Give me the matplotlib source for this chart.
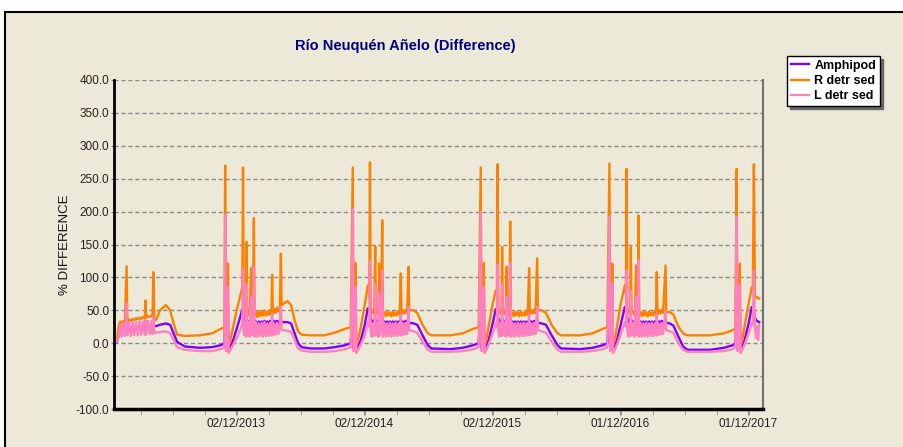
import numpy as np
import pandas as pd
import matplotlib
matplotlib.use("Agg")
import matplotlib.pyplot as plt
from matplotlib.patches import Rectangle

plt.rcParams['font.family'] = ['Liberation Sans', 'DejaVu Sans']

# days since 19/12/2012 and the three series (% difference)
start = pd.Timestamp("2012-12-19")

days = [
    0, 8, 14, 18, 22, 27, 31, 36, 38, 43, 48, 53, 58, 63, 68, 73, 78, 83, 88, 90, 92, 97, 102, 107, 110, 112,
    115, 120, 131, 148, 160, 170, 180, 202, 245,
    # 2013
    280, 305, 315, 317, 319, 324, 325, 327, 332, 340, 350, 360, 366, 368, 370,
    372, 375, 377, 378, 380, 384, 387, 391, 393, 396, 399, 401, 405, 409, 413, 417, 421, 425, 429, 433,
    437, 441, 445, 449, 451, 453, 457, 461, 465, 469, 473, 476, 478, 495, 505, 515, 525, 535, 560, 600, 630, 660,
    # 2014
    675, 681, 683, 688, 689, 691, 696, 704, 714, 724, 728, 730, 732, 735, 739, 742, 745, 747, 751, 754, 756,
    758, 762, 765, 767, 771, 775, 779, 783, 787, 791, 795, 799, 803, 807, 811, 815, 818, 820, 824, 828, 832,
    836, 840, 842, 855, 865, 880, 895, 905, 960, 995, 1025,
    # 2015
    1040, 1046, 1048, 1053, 1055, 1057, 1062, 1070, 1080, 1089, 1092, 1094, 1096, 1099, 1103, 1105, 1107,
    1109, 1113, 1117, 1120, 1122, 1126, 1128, 1130, 1132, 1136, 1140, 1144, 1148, 1152, 1156, 1160, 1164,
    1168, 1172, 1176, 1180, 1184, 1186, 1190, 1194, 1198, 1202, 1207, 1209, 1220, 1232, 1248, 1265, 1275,
    1330, 1365, 1395,
    # 2016
    1407, 1413, 1415, 1420, 1421, 1423, 1428, 1436, 1446, 1457, 1460, 1462, 1464, 1467, 1470, 1472, 1474,
    1476, 1480, 1484, 1486, 1489, 1491, 1494, 1496, 1498, 1502, 1506, 1510, 1514, 1518, 1522, 1526, 1530,
    1534, 1538, 1542, 1546, 1548, 1550, 1554, 1558, 1562, 1566, 1573, 1575, 1585, 1595, 1610, 1623, 1635,
    1700, 1740, 1765,
    # 2017
    1772, 1776, 1778, 1783, 1785, 1787, 1792, 1800, 1810, 1819, 1822, 1825, 1828, 1831, 1834, 1837, 1840,
]

amphipod = [
    0, 2, 12, 18, 17, 19, 18, 21, 19, 21, 20, 22, 21, 23, 22, 24, 23, 24, 23, 25, 24, 25, 24, 26, 25, 27,
    26, 26, 28, 30, 28, 15, 2, -5, -7,
    -6, -3, 0, 40, -8, -6, 20, -10, -6, 5, 22, 40, 52, 50, 38,
    35, 32, 33, 40, 32, 33, 30, 35, 31, 33, 38, 30, 33, 29, 33, 29, 33, 29, 34, 29,
    33, 29, 34, 30, 36, 30, 34, 30, 34, 31, 34, 36, 32, 32, 30, 15, 0, -6, -8, -8, -6, -3,
    0, 45, -8, -6, 20, -10, -6, 5, 25, 53, 50, 48, 38, 33, 34, 31, 38, 32, 33, 30, 36,
    31, 33, 38, 30, 33, 29, 33, 29, 33, 29, 33, 29, 33, 29, 33, 30, 35, 30, 33, 30, 34,
    30, 35, 31, 30, 28, 12, -3, -8, -9, -7, -3,
    0, 45, -8, -6, 20, -10, -6, 8, 30, 52, 48, 48, 38, 33, 34, 31, 38,
    32, 33, 30, 36, 31, 33, 30, 38, 30, 33, 29, 33, 29, 33, 29, 33, 29,
    33, 29, 33, 30, 35, 30, 33, 30, 34, 30, 35, 31, 30, 28, 12, -3, -8,
    -9, -7, -3,
    0, 45, -8, -6, 20, -10, -6, 8, 30, 55, 50, 48, 38, 33, 34, 31, 38,
    32, 33, 30, 32, 36, 31, 33, 38, 30, 33, 29, 33, 29, 33, 29, 33, 29,
    33, 29, 33, 30, 35, 30, 33, 30, 34, 30, 35, 31, 30, 27, 10, -5, -10,
    -10, -7, -3,
    0, 45, -8, -6, 20, -10, -6, 8, 30, 55, 52, 48, 40, 35, 34, 33, 32,
]

r_detr_sed = [
    0, 4, 28, 33, 30, 34, 32, 117, 33, 36, 34, 37, 35, 38, 36, 39, 37, 40, 38, 65, 39, 41, 40, 42, 40, 108,
    38, 35, 50, 58, 50, 30, 13, 11, 12,
    15, 22, 24, 270, 0, 5, 121, -3, 5, 25, 50, 72, 85, 267, 55,
    45, 50, 45, 154, 44, 50, 42, 114, 44, 50, 190, 42, 48, 40, 49, 41, 48, 42, 50, 42,
    48, 43, 50, 44, 104, 45, 52, 46, 54, 48, 55, 136, 58, 64, 58, 35, 18, 13, 12, 12, 16, 22,
    24, 267, 0, 5, 122, -3, 5, 25, 55, 88, 70, 275, 55, 46, 50, 44, 147, 45, 49, 43, 121,
    44, 48, 187, 42, 47, 41, 48, 42, 47, 41, 48, 42, 47, 42, 49, 43, 106, 44, 50, 45, 51,
    46, 116, 50, 50, 46, 28, 15, 12, 12, 15, 22,
    24, 267, 0, 5, 122, -3, 5, 30, 60, 80, 75, 272, 55, 46, 50, 44, 146,
    45, 49, 43, 116, 44, 48, 42, 185, 42, 47, 41, 48, 42, 47, 41, 48, 42,
    47, 42, 49, 43, 114, 44, 50, 45, 51, 46, 129, 50, 50, 46, 28, 15, 12,
    12, 15, 22,
    24, 273, 0, 5, 121, -3, 5, 30, 62, 88, 75, 265, 55, 46, 50, 44, 146,
    45, 49, 43, 48, 118, 44, 48, 194, 42, 47, 41, 48, 42, 47, 41, 48, 42,
    47, 42, 49, 43, 108, 44, 50, 45, 51, 46, 118, 48, 47, 44, 25, 15, 12,
    12, 15, 20,
    23, 265, 0, 5, 121, -3, 5, 30, 60, 85, 80, 272, 72, 70, 70, 68, 68,
]

l_detr_sed = [
    0, 3, 10, 28, 10, 30, 11, 60, 12, 31, 11, 32, 12, 32, 12, 33, 13, 33, 13, 35, 13, 34, 14, 34, 14, 40,
    16, 16, 17, 18, 15, 5, -6, -10, -12,
    -12, -9, -6, 195, -12, -10, 85, -15, -10, -2, 8, 20, 30, 113, 20,
    12, 30, 10, 90, 12, 32, 10, 70, 12, 30, 115, 10, 32, 10, 30, 11, 31, 10, 32, 11,
    30, 11, 31, 12, 45, 12, 30, 13, 31, 14, 30, 55, 20, 19, 17, 5, -8, -11, -13, -13, -12, -9,
    -6, 204, -12, -10, 85, -15, -10, -2, 10, 32, 25, 126, 20, 10, 30, 11, 90, 12, 31, 10, 75,
    12, 30, 110, 10, 31, 10, 30, 11, 31, 10, 30, 11, 31, 11, 30, 12, 45, 12, 30, 13, 31,
    14, 55, 20, 18, 16, 2, -10, -13, -13, -12, -9,
    -6, 200, -12, -10, 85, -15, -10, 0, 15, 30, 25, 119, 18, 10, 30, 11, 90,
    12, 31, 10, 70, 12, 30, 11, 122, 10, 31, 10, 30, 11, 31, 10, 30, 11,
    31, 11, 30, 12, 45, 12, 30, 13, 31, 14, 55, 20, 18, 16, 2, -10, -13,
    -13, -12, -9,
    -6, 192, -12, -10, 91, -15, -10, 0, 15, 32, 25, 111, 18, 10, 30, 11, 80,
    12, 31, 10, 28, 70, 12, 30, 126, 10, 31, 10, 30, 11, 31, 10, 30, 11,
    31, 11, 30, 12, 45, 12, 30, 13, 31, 14, 50, 20, 18, 16, 0, -10, -13,
    -13, -12, -9,
    -6, 192, -12, -10, 88, -15, -10, 0, 15, 32, 28, 111, 25, 8, 25, 5, 28,
]

tick_labels = ["02/12/2013", "02/12/2014", "02/12/2015", "01/12/2016", "01/12/2017"]

x = start + pd.to_timedelta(days, unit="D")

fig = plt.figure(figsize=(9.04, 4.47), dpi=100, facecolor="white")
fig.add_artist(Rectangle((5 / 904, -0.1), 1.2, 1 - 12 / 447 + 0.1, transform=fig.transFigure,
                         facecolor="#ECE9D8", edgecolor="black", linewidth=1.5, zorder=-10))

ax = fig.add_axes([114 / 904, 1 - 409 / 447, (763 - 114) / 904, (409 - 80) / 447])
ax.set_facecolor("none")

l1, = ax.plot(x, amphipod, color="#8000FF", lw=1.7, label="Amphipod")
l2, = ax.plot(x, r_detr_sed, color="#FF8000", lw=1.7, label="R detr sed")
l3, = ax.plot(x, l_detr_sed, color="#FF80C0", lw=1.7, label="L detr sed")

ax.set_ylim(-100, 400)
ax.set_yticks(np.arange(-100, 401, 50))
ax.yaxis.set_major_formatter(plt.FormatStrFormatter("%.1f"))
ax.yaxis.grid(True, linestyle=(0, (3, 2)), color="#8a8a8a", linewidth=1)

ax.set_xlim(start, start + pd.Timedelta(days=1851))
ax.set_xticks(pd.to_datetime(tick_labels, format="%d/%m/%Y"))
ax.set_xticklabels(tick_labels)
minor = [start + pd.Timedelta(days=d) for d in np.arange(77, 1851, 91.25)]
ax.set_xticks(minor, minor=True)

ax.tick_params(axis="y", length=2, color="#808080", labelsize=8.5, labelcolor="#222222", pad=1.5)
ax.tick_params(axis="x", which="both", length=4, color="#909090", labelsize=8.5,
               labelcolor="#222222", pad=2.5)

ax.spines["top"].set_visible(False)
ax.spines["left"].set_linewidth(2)
ax.spines["bottom"].set_linewidth(2.5)
ax.spines["right"].set_color("#707070")
ax.spines["right"].set_linewidth(1.5)

ax.set_ylabel("% DIFFERENCE", fontsize=9.5, color="#111111")
ax.yaxis.set_label_coords(-0.066, 0.5)

fig.text(405 / 904, 1 - 46 / 447, "Río Neuquén Añelo (Difference)", ha="center", va="center",
         fontsize=10.5, fontweight="bold", color="#000080")

leg = fig.legend(handles=[l1, l2, l3], loc="upper left", bbox_to_anchor=(787 / 904, 1 - 56 / 447),
                 fancybox=False, shadow={"color": "#666666", "alpha": 1}, framealpha=1,
                 edgecolor="black", prop={"weight": "bold", "size": 9}, borderpad=0.3,
                 labelspacing=0.25, handlelength=1.5, handletextpad=0.4, borderaxespad=0)
leg.get_frame().set_linewidth(1)

fig.savefig("out.png", dpi=100)
